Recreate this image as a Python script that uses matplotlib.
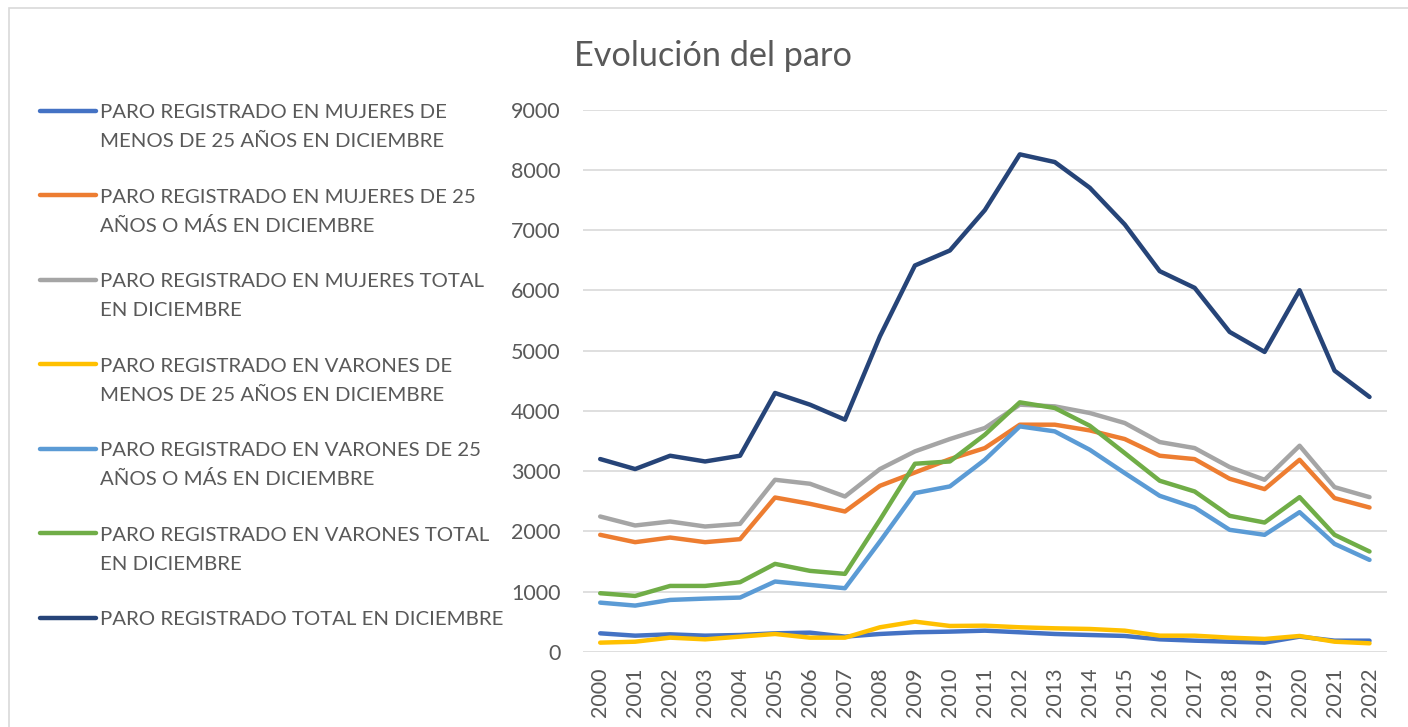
import matplotlib
matplotlib.use("Agg")
import matplotlib.pyplot as plt
from matplotlib.lines import Line2D
from matplotlib.patches import Rectangle

plt.rcParams['font.family'] = ['Lato', 'DejaVu Sans']

years = [str(y) for y in range(2000, 2023)]

mujeres_menos25 = [310, 271, 293, 271, 282, 310, 321, 255, 299, 327, 338, 354,
                   327, 299, 282, 266, 210, 188, 171, 155, 255, 188, 188]
mujeres_25mas = [1944, 1822, 1899, 1822, 1872, 2563, 2458, 2331, 2757, 2978, 3200, 3383,
                 3771, 3771, 3676, 3533, 3256, 3200, 2874, 2702, 3189, 2553, 2397]
mujeres_total = [2248, 2099, 2165, 2082, 2126, 2857, 2791, 2580, 3035, 3328, 3533, 3716,
                 4103, 4075, 3965, 3799, 3483, 3383, 3068, 2857, 3422, 2735, 2569]
varones_menos25 = [155, 171, 238, 210, 255, 299, 238, 238, 410, 504, 432, 437,
                   410, 393, 382, 354, 271, 271, 238, 216, 266, 171, 144]
varones_25mas = [819, 770, 864, 886, 903, 1169, 1113, 1058, 1833, 2636, 2747, 3189,
                 3743, 3660, 3355, 2968, 2591, 2397, 2027, 1944, 2320, 1794, 1528]
varones_total = [975, 930, 1096, 1096, 1158, 1462, 1346, 1296, 2193, 3123, 3161, 3605,
                 4142, 4048, 3754, 3300, 2841, 2663, 2259, 2148, 2569, 1944, 1667]
paro_total = [3201, 3035, 3256, 3161, 3256, 4297, 4103, 3854, 5238, 6412, 6661, 7331,
              8256, 8128, 7702, 7093, 6318, 6041, 5310, 4978, 6002, 4668, 4231]

labels = [
    "PARO REGISTRADO EN MUJERES DE\nMENOS DE 25 AÑOS EN DICIEMBRE",
    "PARO REGISTRADO EN MUJERES DE 25\nAÑOS O MÁS EN DICIEMBRE",
    "PARO REGISTRADO EN MUJERES TOTAL\nEN DICIEMBRE",
    "PARO REGISTRADO EN VARONES DE\nMENOS DE 25 AÑOS EN DICIEMBRE",
    "PARO REGISTRADO EN VARONES DE 25\nAÑOS O MÁS EN DICIEMBRE",
    "PARO REGISTRADO EN VARONES TOTAL\nEN DICIEMBRE",
    "PARO REGISTRADO TOTAL EN DICIEMBRE",
]
series = [mujeres_menos25, mujeres_25mas, mujeres_total,
          varones_menos25, varones_25mas, varones_total, paro_total]
colors = ["#4472C4", "#ED7D31", "#A5A5A5", "#FFC000", "#5B9BD5", "#70AD47", "#264478"]

txt = "#595959"
W, H = 1408, 727

fig = plt.figure(figsize=(W / 100, H / 100), dpi=100)
fig.patch.set_facecolor("white")

# chart border
fig.add_artist(Rectangle((9 / W, -0.1), 2, 1.1 - 8 / H, transform=fig.transFigure,
                         fill=False, edgecolor="#D9D9D9", lw=1.2))

ax = fig.add_axes([582.7 / W, 1 - 652 / H, (1387 - 582.7) / W, (652 - 109.5) / H])
x = list(range(len(years)))
for s, c in zip(series, colors):
    ax.plot(x, s, color=c, lw=3.2, solid_capstyle="round", solid_joinstyle="round")

ax.set_xlim(-0.5, len(years) - 0.5)
ax.set_ylim(0, 9000)
ax.set_yticks(range(0, 9001, 1000))
ax.set_xticks(x)
ax.set_xticklabels(years, rotation=90)
ax.grid(axis="y", color="#D9D9D9", lw=1.2)
ax.set_axisbelow(True)
for sp in ax.spines.values():
    sp.set_visible(False)
ax.tick_params(axis="both", length=0, labelsize=15.5, colors=txt)
ax.tick_params(axis="y", pad=16)
ax.tick_params(axis="x", pad=11)

fig.text(713 / W, 1 - 65.7 / H, "Evolución del paro", ha="center", va="baseline",
         fontsize=24.7, color=txt)

# legend, drawn by hand (handle lines up with the first text row)
for i, (lab, c) in enumerate(zip(labels, colors)):
    yh = 110.7 + 84.5 * i
    fig.add_artist(Line2D([40 / W, 96 / W], [1 - yh / H, 1 - yh / H], color=c, lw=3.2,
                          solid_capstyle="round", transform=fig.transFigure))
    for k, line in enumerate(lab.split("\n")):
        yb = 118.3 + 84.5 * i + 29 * k
        fig.text(100 / W, 1 - yb / H, line, ha="left", va="baseline",
                 fontsize=14.7, color=txt)

fig.savefig("out.png", dpi=100)
